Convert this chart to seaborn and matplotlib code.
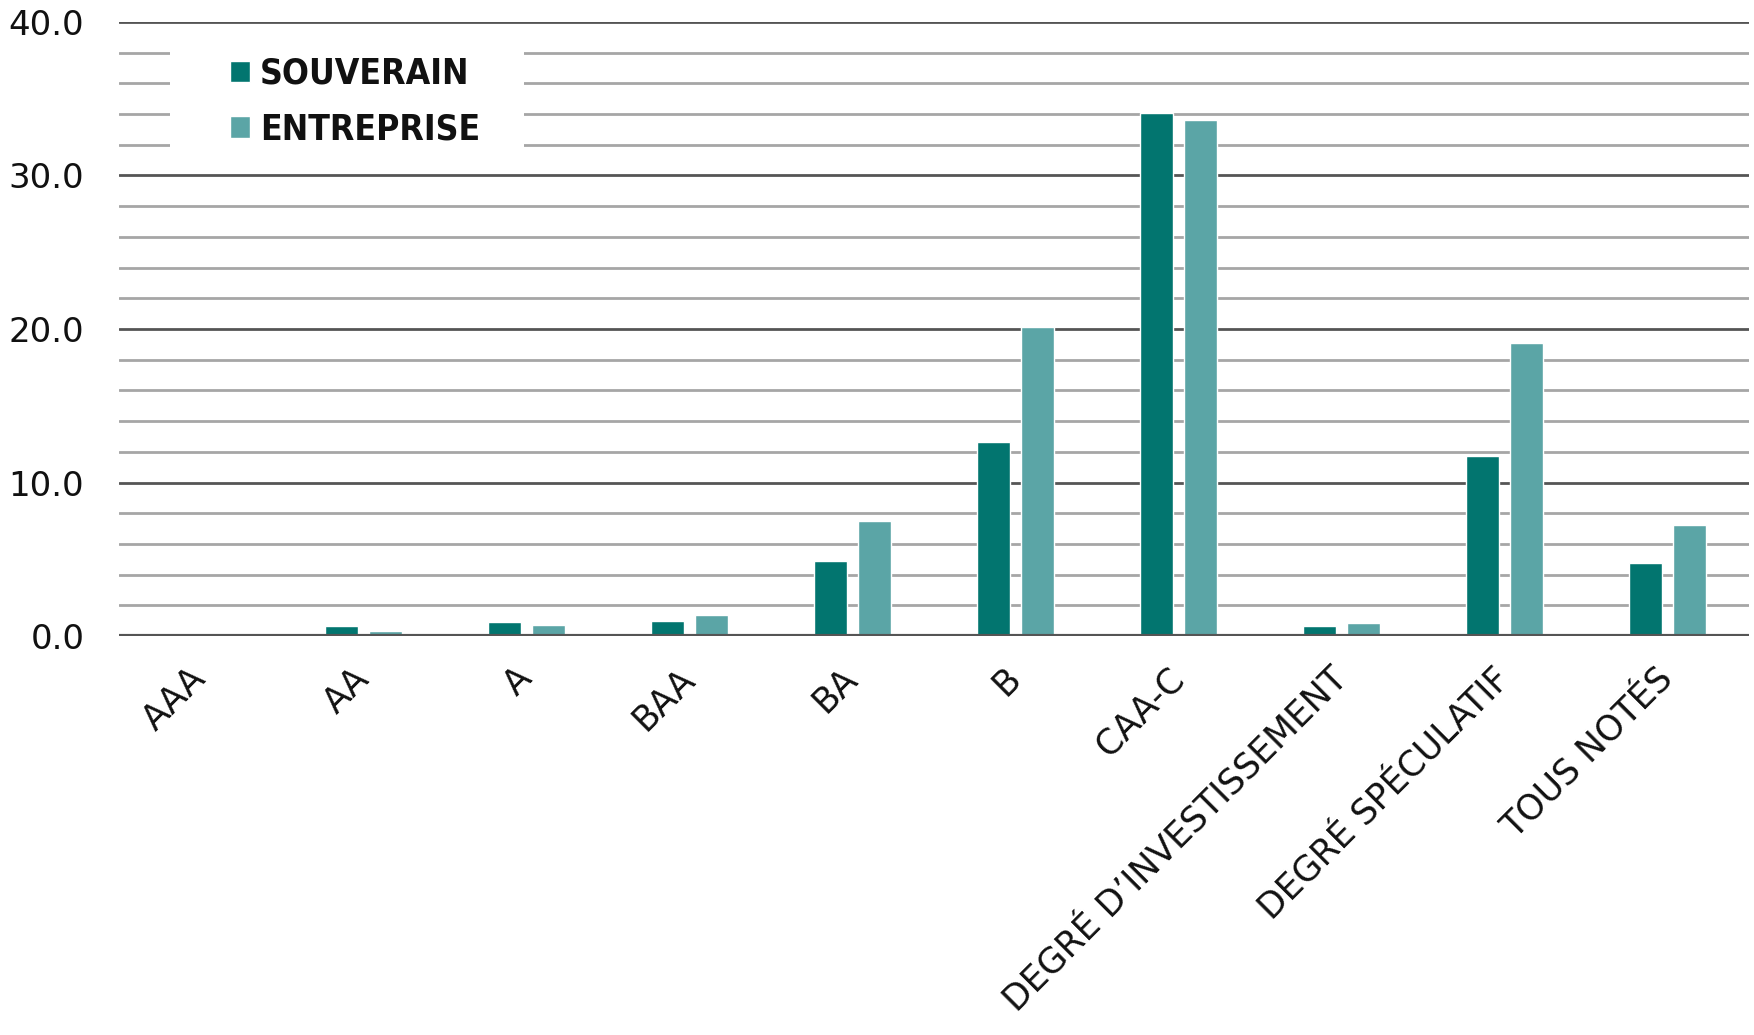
import matplotlib
matplotlib.use("Agg")
import matplotlib.pyplot as plt
from matplotlib.patches import Rectangle
import seaborn as sns
import pandas as pd
import numpy as np

categories = ["AAA", "AA", "A", "BAA", "BA", "B", "CAA-C",
              "DEGRÉ D’INVESTISSEMENT", "DEGRÉ SPÉCULATIF", "TOUS NOTÉS"]
souverain = [0.0, 0.65, 0.91, 0.96, 4.9, 12.66, 34.1, 0.65, 11.7, 4.73]
entreprise = [0.0, 0.3, 0.74, 1.37, 7.5, 20.1, 33.6, 0.85, 19.07, 7.21]
series_names = ["SOUVERAIN", "ENTREPRISE"]
colors = ["#02756F", "#5BA5A6"]
yticks = [0, 10, 20, 30, 40]

df = pd.DataFrame({
    "cat": categories * 2,
    "val": souverain + entreprise,
    "serie": [series_names[0]] * len(categories) + [series_names[1]] * len(categories),
})

sns.set_theme(style="white")
plt.rcParams['font.family'] = ['DejaVu Sans']

W, H = 1754, 1035
fig = plt.figure(figsize=(W / 100, H / 100), dpi=100)
ax = fig.add_axes([119 / W, 1 - 636 / H, 1630 / W, 614 / H])

sns.barplot(data=df, x="cat", y="val", hue="serie", palette=colors,
            width=0.54, gap=0.233, ax=ax, zorder=3, saturation=1, legend=True)

ax.set_ylim(0, 40)
ax.set_xlim(-0.5, len(categories) - 0.5)
ax.set_yticks(yticks)
ax.set_yticklabels([f"{v:.1f}" for v in yticks])
ax.set_yticks(np.arange(0, 41, 2), minor=True)
ax.grid(False)
ax.grid(axis="y", which="minor", color="#A6A6A6", linewidth=2, zorder=0)
ax.grid(axis="y", which="major", color="#555555", linewidth=2, zorder=1)
ax.axhline(0, color="#555555", linewidth=3, zorder=4)
for s in ax.spines.values():
    s.set_visible(False)
ax.set_xlabel("")
ax.set_ylabel("")
ax.tick_params(axis="y", which="both", length=0, pad=25, labelsize=24.5, labelcolor="#111111")
ax.tick_params(axis="x", length=0, pad=27, labelsize=25, labelcolor="#111111")
for lbl in ax.get_xticklabels():
    lbl.set_rotation(45)
    lbl.set_ha("right")
    lbl.set_va("center")
    lbl.set_rotation_mode("anchor")

# white box behind the legend
ax.add_patch(Rectangle((0.031, 0.774), 0.2175, 0.196, transform=ax.transAxes,
                       facecolor="white", edgecolor="none", zorder=4.5))

handles, labels = ax.get_legend_handles_labels()
leg = ax.legend(handles, labels, loc="upper left", bbox_to_anchor=(0.068, 0.943),
                frameon=False, handlelength=0.57, handleheight=0.57, handletextpad=0.28,
                labelspacing=0.61, borderpad=0, borderaxespad=0,
                prop={"family": "DejaVu Sans", "stretch": "condensed",
                      "weight": "bold", "size": 25.5})
for t in leg.get_texts():
    t.set_color("#111111")
leg.set_zorder(5)

fig.savefig("out.png", dpi=100, facecolor="white")
